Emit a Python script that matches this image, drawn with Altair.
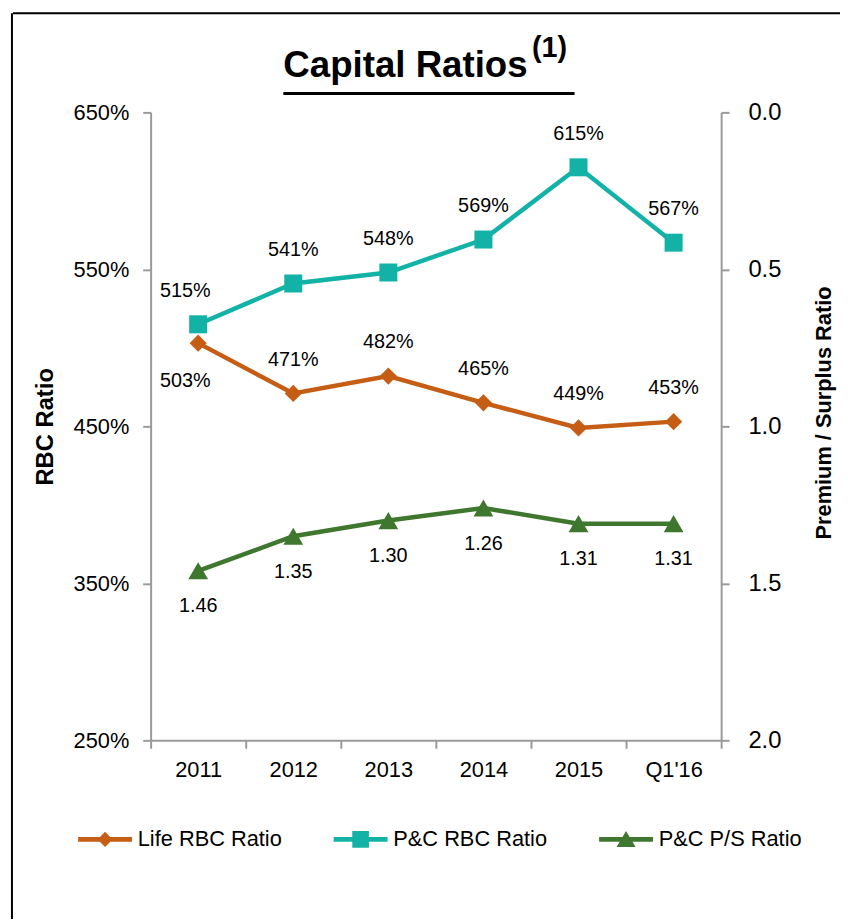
import altair as alt
import pandas as pd

# ---------------- data ----------------
categories = ["2011", "2012", "2013", "2014", "2015", "Q1'16"]
life_rbc = [503, 471, 482, 465, 449, 453]
pc_rbc = [515, 541, 548, 569, 615, 567]
pc_ps = [1.46, 1.35, 1.30, 1.26, 1.31, 1.31]
series_names = ["Life RBC Ratio", "P&C RBC Ratio", "P&C P/S Ratio"]
series_colors = ["#C65D15", "#12B2A7", "#3F772E"]
rbc_ticks = [250, 350, 450, 550, 650]
ps_ticks = [0.0, 0.5, 1.0, 1.5, 2.0]

NARROW = "Liberation Sans Narrow, Arial Narrow, Liberation Sans, Arial, sans-serif"
ARIAL = "Liberation Sans, Arial, sans-serif"
GRAY = "#9A9A9A"

rows = []
for name, vals in zip(series_names, [life_rbc, pc_rbc, pc_ps]):
    for c, v in zip(categories, vals):
        lab = f"{v:.2f}" if name == "P&C P/S Ratio" else f"{v}%"
        rows.append({"cat": c, "series": name, "value": v, "label": lab})
df = pd.DataFrame(rows)

x_enc = alt.X(
    "cat:N", sort=categories, bandPosition=0.5,
    scale=alt.Scale(type="band", paddingInner=0, paddingOuter=0),
    axis=alt.Axis(title=None, labelAngle=0, labelFont=NARROW, labelFontSize=22,
                  labelColor="black", tickBand="extent", tickSize=8, tickWidth=2,
                  tickColor=GRAY, domainColor=GRAY, domainWidth=2, labelPadding=12,
                  grid=False),
)
y_left = alt.Y(
    "value:Q", scale=alt.Scale(domain=[250, 650], nice=False, zero=False),
    axis=alt.Axis(values=rbc_ticks, labelExpr="datum.value + '%'", title="RBC Ratio",
                  orient="left", grid=False, labelFont=NARROW, labelFontSize=22,
                  labelColor="black", tickSize=8, tickWidth=2, tickColor=GRAY,
                  domainColor=GRAY, domainWidth=2, labelPadding=14,
                  titleFont=ARIAL, titleFontSize=24, titleFontWeight="bold",
                  titleColor="black", titlePadding=16),
)
y_right = alt.Y(
    "value:Q", scale=alt.Scale(domain=[0, 2], reverse=True, nice=False, zero=False),
    axis=alt.Axis(values=ps_ticks, format=".1f", title="Premium / Surplus Ratio",
                  orient="right", grid=False, labelFont=ARIAL, labelFontSize=24,
                  labelColor="black", tickSize=8, tickWidth=2, tickColor=GRAY,
                  domainColor=GRAY, domainWidth=2, labelPadding=19,
                  titleFont=ARIAL, titleFontSize=22, titleFontWeight="bold",
                  titleColor="black", titleAngle=270, titleBaseline="top",
                  titlePadding=33, titleY=303),
)

shapes = ["diamond", "square", "triangle-up"]
sizes = [300, 330, 400]
label_dy = {
    "Life RBC Ratio": alt.expr("datum.cat == '2011' ? 38 : -34"),
    "P&C RBC Ratio": -34,
    "P&C P/S Ratio": 36,
}
label_dx = {
    "Life RBC Ratio": alt.expr("datum.cat == '2011' ? -13 : 0"),
    "P&C RBC Ratio": alt.expr("datum.cat == '2011' ? -13 : 0"),
    "P&C P/S Ratio": 0,
}


def series_layers(name, color, shape, size, y_enc):
    base = alt.Chart(df).transform_filter(alt.datum.series == name)
    line = base.mark_line(color=color, strokeWidth=4.5).encode(x=x_enc, y=y_enc)
    pts = base.mark_point(shape=shape, size=size, filled=True, color=color,
                          opacity=1).encode(x=x_enc, y=y_enc)
    txt = base.mark_text(font=NARROW, fontSize=20, color="black",
                         dy=label_dy[name], dx=label_dx[name],
                         baseline="middle").encode(x=x_enc, y=y_enc, text="label:N")
    return [line, pts, txt]


legend_paths = [
    "M-3.4,-0.31L3.4,-0.31L3.4,0.31L-3.4,0.31Z M0,-0.95L0.95,0L0,0.95L-0.95,0Z",
    "M-3.4,-0.31L3.4,-0.31L3.4,0.31L-3.4,0.31Z M-1.05,-1.05L1.05,-1.05L1.05,1.05L-1.05,1.05Z",
    "M-3.4,-0.31L3.4,-0.31L3.4,0.31L-3.4,0.31Z M0,-1.05L1.2,0.95L-1.2,0.95Z",
]
leg = alt.Legend(orient="none", legendX=-57, legendY=723, direction="horizontal",
                 title=None, labelFont=NARROW, labelFontSize=22, labelColor="black",
                 labelLimit=400, symbolSize=256, symbolStrokeWidth=0, labelOffset=22,
                 columnPadding=51, padding=0, symbolOpacity=1)
legend_layer = alt.Chart(df).transform_filter("false").mark_point(
    filled=True, opacity=1).encode(
    color=alt.Color("series:N", scale=alt.Scale(domain=series_names, range=series_colors), legend=leg),
    shape=alt.Shape("series:N", scale=alt.Scale(domain=series_names, range=legend_paths), legend=leg),
)

left = alt.layer(
    *series_layers(series_names[1], series_colors[1], shapes[1], sizes[1], y_left),
    *series_layers(series_names[0], series_colors[0], shapes[0], sizes[0], y_left),
    legend_layer,
)
right = alt.layer(*series_layers(series_names[2], series_colors[2], shapes[2], sizes[2], y_right))

one = pd.DataFrame({"k": [0]})
border_top = alt.Chart(one).mark_rule(color="black", strokeWidth=2).encode(
    x=alt.value(-139), x2=alt.value(700), y=alt.value(-100))
border_left = alt.Chart(one).mark_rule(color="black", strokeWidth=2).encode(
    x=alt.value(-140), y=alt.value(-100), y2=alt.value(815))
title_txt = alt.Chart(one).mark_text(
    text="Capital Ratios", align="left", baseline="alphabetic", font=ARIAL,
    fontWeight="bold", fontSize=37, color="black").encode(x=alt.value(134), y=alt.value(-36))
title_sup = alt.Chart(one).mark_text(
    text="(1)", align="left", baseline="alphabetic", font=ARIAL,
    fontWeight="bold", fontSize=29, color="black").encode(x=alt.value(385), y=alt.value(-56))
underline = alt.Chart(one).mark_rule(color="black", strokeWidth=3).encode(
    x=alt.value(134), x2=alt.value(428), y=alt.value(-19))

chart = alt.layer(
    left, right, border_top, border_left, title_txt, title_sup, underline
).resolve_scale(y="independent").properties(
    width=576, height=634,
    autosize=alt.AutoSizeParams(type="none"),
    padding={"left": 144, "top": 101, "right": 120, "bottom": 176},
).configure_view(stroke=None)

chart.save("out.html", embed_options={"renderer": "svg", "actions": False})
